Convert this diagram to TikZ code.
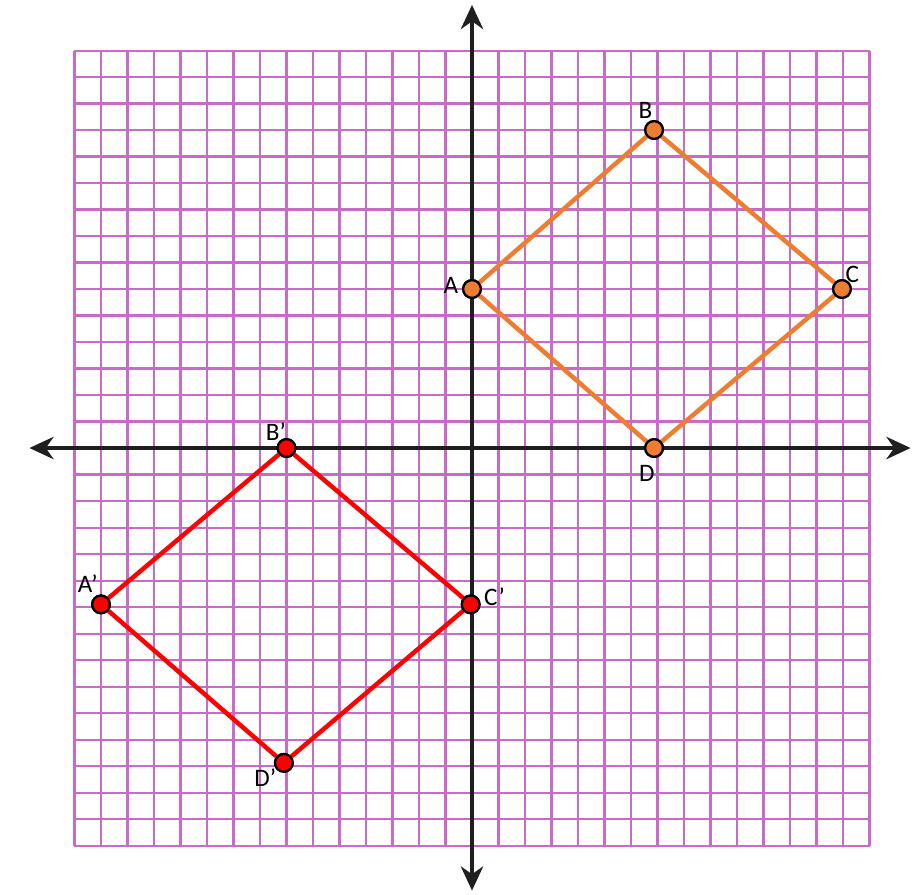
\documentclass[tikz,border=0pt]{standalone}
\usepackage{fontspec}
\setmainfont{Carlito}
\usetikzlibrary{arrows.meta}
\definecolor{gridc}{RGB}{186,70,186}
\definecolor{orng}{RGB}{237,125,49}
\definecolor{redc}{RGB}{255,0,0}
\tikzset{
  gridline/.style={draw=gridc, line width=1.1pt, opacity=0.8},
  axisline/.style={draw=black!88, line width=1.9pt, -{Stealth[length=13pt,width=12pt]}},
  orngside/.style={draw=orng, line width=2.4pt},
  redside/.style={draw=redc, line width=2.4pt},
  orngpt/.style={circle, fill=orng, draw=black, line width=1.2pt, inner sep=0pt, minimum size=9.5pt},
  redpt/.style={circle, fill=redc, draw=black, line width=1.2pt, inner sep=0pt, minimum size=9.5pt},
  lbl/.style={font=\fontsize{13.5pt}{15pt}\selectfont, inner sep=1pt}
}
\begin{document}
\begin{tikzpicture}[x=0.5cm,y=0.5cm]
\useasboundingbox (-17.811,-16.830) rectangle (16.981,16.906);
\draw[gridline, step=0.5cm] (-15,-15) grid (15,15);
\draw[axisline] (0,0) -- (-16.7,0);
\draw[axisline] (0,0) -- (16.55,0);
\draw[axisline] (0,0) -- (0,16.72);
\draw[axisline] (0,0) -- (0,-16.7);
% original
\node[orngpt] (A) at (0,6) {};
\node[orngpt] (B) at (6.87,12) {};
\node[orngpt] (C) at (13.96,6) {};
\node[orngpt] (D) at (6.87,0) {};
% image
\node[redpt] (A') at (-14,-5.9) {};
\node[redpt] (B') at (-7,0) {};
\node[redpt] (C') at (-0.05,-5.9) {};
\node[redpt] (D') at (-7.1,-11.88) {};
\draw[orngside] (A) -- (B) -- (C) -- (D) -- (A);
\draw[redside] (A') -- (B') -- (C') -- (D') -- (A');
\node[orngpt] at (A) {};
\node[orngpt] at (B) {};
\node[orngpt] at (C) {};
\node[orngpt] at (D) {};
\node[redpt] at (A') {};
\node[redpt] at (B') {};
\node[redpt] at (C') {};
\node[redpt] at (D') {};
% labels
\node[lbl] (lA) at (-0.8,6.12) {A};
\node[lbl] (lB) at (6.55,12.75) {B};
\node[lbl] (lC) at (14.35,6.55) {C};
\node[lbl] (lD) at (6.6,-0.95) {D};
\node[lbl] (lB') at (-7.4,0.62) {B’};
\node[lbl] (lA') at (-14.5,-5.1) {A’};
\node[lbl] (lC') at (0.85,-5.6) {C’};
\node[lbl] (lD') at (-7.8,-12.45) {D’};
\end{tikzpicture}
\end{document}
